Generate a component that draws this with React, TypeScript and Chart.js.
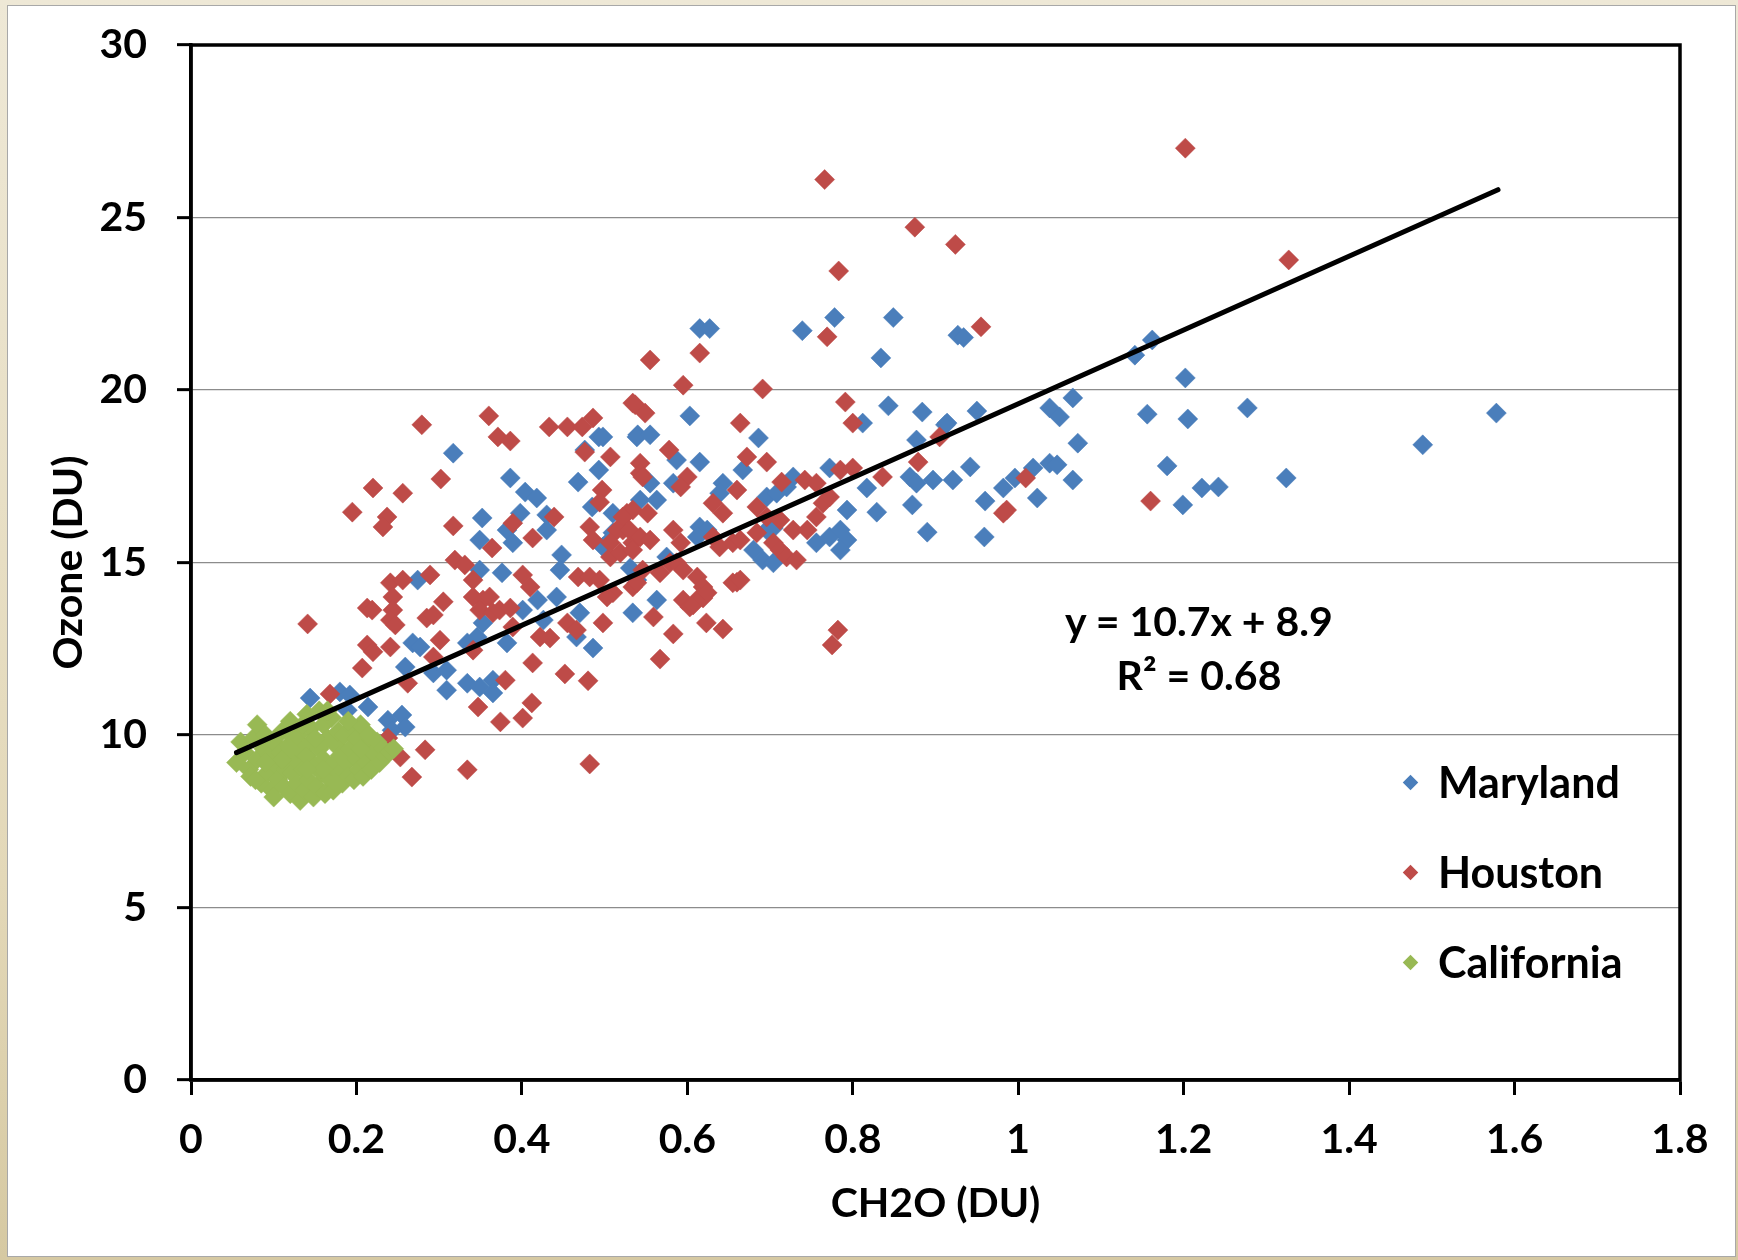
import React, { useEffect, useRef } from "react";
import { Chart, registerables } from "chart.js";

Chart.register(...registerables);

const xTickValues = [0, 0.2, 0.4, 0.6, 0.8, 1, 1.2, 1.4, 1.6, 1.8];
const yTickValues = [0, 5, 10, 15, 20, 25, 30];

const seriesNames = ["Maryland", "Houston", "California"];
const seriesColors = ["#4a7ebb", "#be4b48", "#98b954"];

// [CH2O (DU), Ozone (DU)]
const maryland = [
  [0.317, 18.17], [0.386, 17.45], [0.404, 17.04], [0.418, 16.87], [0.468, 17.33], [0.493, 17.68],
  [0.493, 18.64], [0.476, 18.26], [0.54, 18.7], [0.352, 16.29], [0.398, 16.43], [0.43, 16.38],
  [0.349, 15.65], [0.382, 15.94], [0.389, 15.57], [0.43, 15.94], [0.448, 15.22], [0.446, 14.78],
  [0.485, 16.61], [0.51, 15.86], [0.498, 15.45], [0.349, 14.78], [0.376, 14.7], [0.274, 14.49],
  [0.419, 13.91], [0.442, 14.0], [0.401, 13.62], [0.426, 13.33], [0.47, 13.54], [0.466, 12.84],
  [0.486, 12.52], [0.534, 13.54], [0.353, 13.25], [0.346, 12.84], [0.334, 12.67], [0.268, 12.67],
  [0.277, 12.55], [0.382, 12.67], [0.531, 14.84], [0.539, 14.49],
  [0.144, 11.07], [0.18, 11.25], [0.192, 11.16], [0.189, 10.72], [0.214, 10.81], [0.238, 10.43],
  [0.255, 10.58], [0.259, 10.23], [0.243, 10.14], [0.259, 11.97], [0.293, 11.8], [0.309, 11.88],
  [0.309, 11.3], [0.334, 11.5], [0.349, 11.39], [0.365, 11.59], [0.365, 11.22],
  [0.615, 21.78], [0.627, 21.78], [0.739, 21.72], [0.834, 20.93], [0.927, 21.59], [0.603, 19.25],
  [0.843, 19.54], [0.884, 19.36], [0.812, 19.04], [0.914, 19.04], [0.539, 18.64], [0.555, 18.7],
  [0.498, 18.64], [0.686, 18.61], [0.877, 18.55], [0.587, 17.97], [0.615, 17.91], [0.667, 17.68],
  [0.921, 17.39], [0.897, 17.39], [0.869, 17.48], [0.877, 17.3], [0.817, 17.16], [0.772, 17.74],
  [0.728, 17.48], [0.543, 16.81], [0.563, 16.81], [0.555, 17.3], [0.583, 17.3], [0.643, 17.3],
  [0.639, 17.01], [0.696, 16.9], [0.708, 17.01], [0.72, 17.19], [0.793, 16.52], [0.829, 16.46],
  [0.872, 16.67], [0.89, 15.88], [0.615, 16.03], [0.624, 15.94], [0.612, 15.74], [0.696, 15.94],
  [0.704, 16.0], [0.756, 15.57], [0.772, 15.74], [0.785, 15.94], [0.793, 15.65], [0.785, 15.36],
  [0.68, 15.36], [0.691, 15.07], [0.704, 14.99], [0.563, 13.91], [0.51, 16.43], [0.503, 15.57],
  [0.575, 15.16],
  [0.934, 21.52], [1.141, 21.01], [1.162, 21.45], [1.202, 20.35], [1.066, 19.77], [0.95, 19.39],
  [1.038, 19.48], [1.05, 19.22], [1.156, 19.3], [1.205, 19.16], [1.277, 19.48], [0.912, 18.99],
  [1.072, 18.46], [1.18, 17.8], [0.942, 17.77], [1.038, 17.88], [1.047, 17.83], [1.018, 17.74],
  [0.996, 17.45], [1.066, 17.39], [0.982, 17.16], [0.96, 16.78], [1.023, 16.87], [1.222, 17.16],
  [1.242, 17.19], [1.324, 17.45], [1.199, 16.67], [0.959, 15.74], [1.489, 18.41], [1.578, 19.33],
  [0.778, 22.1], [0.849, 22.1],
];

const houston = [
  [0.279, 18.99], [0.36, 19.25], [0.371, 18.64], [0.386, 18.52], [0.433, 18.93], [0.455, 18.93],
  [0.473, 18.93], [0.486, 19.19], [0.476, 18.2], [0.507, 18.06], [0.534, 19.62], [0.22, 17.16],
  [0.256, 17.01], [0.302, 17.42], [0.195, 16.46], [0.237, 16.32], [0.232, 16.03], [0.317, 16.06],
  [0.389, 16.14], [0.413, 15.71], [0.364, 15.42], [0.439, 16.32], [0.497, 17.1], [0.494, 16.75],
  [0.482, 16.03], [0.486, 15.65], [0.527, 16.43], [0.522, 15.94], [0.534, 15.57], [0.507, 15.16],
  [0.319, 15.07], [0.331, 14.93], [0.289, 14.64], [0.241, 14.41], [0.256, 14.49], [0.341, 14.49],
  [0.401, 14.64], [0.41, 14.29], [0.468, 14.58], [0.482, 14.58], [0.494, 14.49], [0.213, 13.68],
  [0.219, 13.62], [0.244, 14.0], [0.244, 13.62], [0.241, 13.33], [0.247, 13.19], [0.141, 13.22],
  [0.305, 13.86], [0.285, 13.39], [0.293, 13.48], [0.341, 14.0], [0.353, 13.91], [0.361, 14.0],
  [0.349, 13.62], [0.365, 13.54], [0.373, 13.62], [0.386, 13.68], [0.389, 13.13], [0.422, 12.84],
  [0.434, 12.81], [0.455, 13.25], [0.466, 13.04], [0.498, 13.25], [0.51, 14.12], [0.503, 14.0],
  [0.534, 14.29], [0.213, 12.61], [0.22, 12.41], [0.241, 12.55], [0.301, 12.75], [0.341, 12.46],
  [0.207, 11.94], [0.262, 11.5], [0.168, 11.19], [0.238, 9.91], [0.253, 9.36], [0.283, 9.57],
  [0.267, 8.78], [0.334, 8.99], [0.347, 10.81], [0.374, 10.38], [0.401, 10.49], [0.412, 10.93],
  [0.38, 11.59], [0.293, 12.26], [0.413, 12.09],
  [0.555, 20.87], [0.615, 21.07], [0.769, 21.54], [0.595, 20.14], [0.691, 20.03], [0.537, 19.57],
  [0.549, 19.33], [0.664, 19.04], [0.791, 19.65], [0.8, 19.04], [0.578, 18.26], [0.672, 18.06],
  [0.696, 17.91], [0.543, 17.88], [0.543, 17.59], [0.546, 17.48], [0.6, 17.48], [0.592, 17.19],
  [0.66, 17.1], [0.714, 17.33], [0.742, 17.39], [0.756, 17.3], [0.785, 17.68], [0.8, 17.74],
  [0.836, 17.48], [0.879, 17.91], [0.905, 18.64], [0.534, 16.52], [0.552, 16.43], [0.522, 16.32],
  [0.515, 15.94], [0.53, 15.94], [0.543, 15.74], [0.555, 15.65], [0.507, 15.57], [0.519, 15.28],
  [0.534, 15.36], [0.583, 15.94], [0.592, 15.57], [0.631, 16.72], [0.643, 16.43], [0.684, 16.61],
  [0.696, 16.32], [0.712, 16.23], [0.728, 15.94], [0.745, 15.94], [0.764, 16.72], [0.772, 16.9],
  [0.756, 16.32], [0.631, 15.74], [0.639, 15.45], [0.655, 15.57], [0.664, 15.65], [0.684, 15.86],
  [0.704, 15.57], [0.712, 15.36], [0.72, 15.16], [0.732, 15.07], [0.579, 14.99], [0.587, 14.99],
  [0.595, 14.78], [0.612, 14.58], [0.619, 14.29], [0.615, 14.0], [0.546, 14.78], [0.539, 14.41],
  [0.567, 14.7], [0.595, 13.91], [0.603, 13.71], [0.66, 14.43], [0.559, 13.42],
  [0.583, 12.93], [0.623, 13.25], [0.643, 13.07], [0.782, 13.04], [0.775, 12.61], [0.567, 12.2],
  [0.452, 11.77], [0.48, 11.57], [0.482, 9.16], [0.655, 14.41], [0.664, 14.49], [0.607, 13.77],
  [0.619, 13.97], [0.624, 14.12],
  [1.202, 27.01], [0.875, 24.72], [0.924, 24.22], [1.327, 23.77], [0.955, 21.83], [1.009, 17.45],
  [0.986, 16.52], [0.982, 16.43], [1.16, 16.78], [0.766, 26.1], [0.783, 23.45],
];

const california = [
  [0.055, 9.2], [0.06, 9.8], [0.065, 9.5], [0.07, 9.0], [0.072, 8.8], [0.075, 9.9], [0.08, 10.3],
  [0.08, 9.3], [0.085, 8.6], [0.088, 9.6], [0.09, 10.0], [0.092, 8.9], [0.095, 9.4], [0.098, 8.4],
  [0.1, 9.8], [0.1, 8.2], [0.103, 9.1], [0.105, 8.7], [0.108, 9.5], [0.11, 10.1], [0.112, 8.5],
  [0.115, 9.0], [0.118, 9.7], [0.12, 10.4], [0.12, 8.3], [0.122, 8.9], [0.125, 9.3], [0.128, 8.6],
  [0.13, 10.0], [0.13, 9.6], [0.132, 8.1], [0.135, 9.0], [0.137, 8.4], [0.14, 10.6], [0.14, 9.4],
  [0.142, 8.7], [0.145, 10.2], [0.145, 9.8], [0.148, 8.2], [0.15, 9.1], [0.152, 8.5], [0.155, 10.7],
  [0.155, 9.6], [0.158, 8.9], [0.16, 10.3], [0.16, 9.3], [0.162, 8.3], [0.165, 9.9], [0.168, 8.7],
  [0.17, 10.5], [0.17, 9.1], [0.172, 8.4], [0.175, 9.7], [0.178, 10.1], [0.18, 8.9], [0.18, 9.4],
  [0.183, 8.6], [0.185, 10.0], [0.188, 9.2], [0.19, 8.8], [0.192, 9.6], [0.195, 10.2], [0.197, 8.7],
  [0.2, 9.3], [0.2, 9.9], [0.203, 9.0], [0.205, 10.3], [0.208, 8.8], [0.21, 9.6], [0.212, 9.2],
  [0.215, 10.0], [0.218, 9.0], [0.22, 9.5], [0.225, 9.8], [0.228, 9.2], [0.232, 9.6], [0.235, 9.4],
  [0.24, 9.5], [0.245, 9.6], [0.11, 9.3], [0.125, 9.9], [0.135, 10.3], [0.15, 9.9], [0.165, 10.7],
  [0.16, 9.0], [0.14, 9.0], [0.12, 9.6], [0.09, 9.2], [0.078, 8.7], [0.175, 8.6], [0.19, 10.4],
  [0.205, 9.6],
];

// trendline as printed on the chart
const fitSlope = 10.7;
const fitIntercept = 8.9;
const fitXRange = [0.055, 1.58];

const FONT = "Lato, 'Open Sans', sans-serif";

const toPoints = (rows: number[][]) => rows.map(([x, y]) => ({ x, y }));

// black box round the plot area (Excel draws it on all four sides)
const framePlugin = {
  id: "frame",
  beforeDatasetsDraw(chart: any) {
    const { ctx, chartArea: a } = chart;
    ctx.save();
    ctx.strokeStyle = "#000";
    ctx.lineWidth = 3.5;
    ctx.strokeRect(a.left, a.top, a.right - a.left, a.bottom - a.top);
    ctx.restore();
  },
};

const App = () => {
  const canvasRef = useRef<HTMLCanvasElement | null>(null);

  useEffect(() => {
    const ctx = canvasRef.current?.getContext("2d") as CanvasRenderingContext2D;
    const scatter = (rows: number[][], i: number, order: number) => ({
      type: "scatter",
      label: seriesNames[i],
      data: toPoints(rows),
      order,
      pointStyle: "rectRot",
      pointRadius: 10,
      pointBackgroundColor: seriesColors[i],
      pointBorderColor: seriesColors[i],
      pointBorderWidth: 0.5,
    });

    const chart = new Chart(ctx, {
      type: "scatter",
      data: {
        datasets: [
          {
            type: "line",
            label: "fit",
            data: fitXRange.map((x) => ({ x, y: fitSlope * x + fitIntercept })),
            order: -1,
            borderColor: "#000",
            borderWidth: 5,
            borderCapStyle: "round",
            pointRadius: 0,
            showLine: true,
          },
          scatter(california, 2, 0),
          scatter(houston, 1, 1),
          scatter(maryland, 0, 2),
        ] as any,
      },
      plugins: [framePlugin],
      options: {
        responsive: false,
        animation: false,
        events: [],
        layout: { padding: { top: 45, right: 58, left: 0, bottom: 0 } },
        plugins: { legend: { display: false }, tooltip: { enabled: false } },
        scales: {
          x: {
            type: "linear",
            min: 0,
            max: 1.8,
            afterFit: (s: any) => {
              s.height = 180;
            },
            afterBuildTicks: (s: any) => {
              s.ticks = xTickValues.map((value) => ({ value }));
            },
            grid: {
              drawOnChartArea: false,
              drawTicks: true,
              tickLength: 15,
              tickColor: "#000",
              tickWidth: 3,
            },
            border: { display: true, color: "#000", width: 3.5 },
            ticks: {
              padding: 20,
              color: "#000",
              font: { family: FONT, size: 41, weight: "bold" },
              callback: (v: any) => String(Math.round(Number(v) * 10) / 10),
            },
            title: {
              display: true,
              text: "CH2O (DU)",
              color: "#000",
              font: { family: FONT, size: 41, weight: "bold" },
              padding: { top: 0, bottom: 32 },
            },
          },
          y: {
            type: "linear",
            min: 0,
            max: 30,
            afterFit: (s: any) => {
              s.width = 191;
            },
            afterBuildTicks: (s: any) => {
              s.ticks = yTickValues.map((value) => ({ value }));
            },
            grid: {
              color: "#8c8c8c",
              lineWidth: 1.3,
              drawTicks: true,
              tickLength: 14,
              tickColor: "#000",
              tickWidth: 3,
            },
            border: { display: true, color: "#000", width: 3.5 },
            ticks: {
              padding: 30,
              color: "#000",
              // small line height keeps the top label from pushing the plot down
              font: { family: FONT, size: 41, weight: "bold", lineHeight: 0.5 },
              callback: (v: any) => String(v),
            },
            title: {
              display: true,
              text: "Ozone (DU)",
              color: "#000",
              font: { family: FONT, size: 41, weight: "bold" },
              padding: { top: 44, bottom: 0 },
            },
          },
        },
      } as any,
    });

    return () => {
      chart.destroy();
    };
  }, []);

  const textStyle: React.CSSProperties = {
    fontFamily: FONT,
    fontWeight: 700,
    fontSize: 41,
    color: "#000",
    whiteSpace: "nowrap",
  };
  const legendTops = [757, 847, 937];

  return (
    <div
      style={{
        position: "absolute",
        left: 0,
        top: 0,
        width: 1738,
        height: 1260,
        overflow: "hidden",
        background: "linear-gradient(to bottom, #eee8d6, #e3d8b8 70%, #d6c9a2)",
      }}
    >
      <div
        style={{
          position: "absolute",
          left: 7,
          top: 5,
          width: 1729,
          height: 1252,
          background: "#fff",
          border: "1px solid #a8a8a8",
          boxSizing: "border-box",
        }}
      />
      <canvas
        ref={canvasRef}
        width={1738}
        height={1260}
        style={{ position: "absolute", left: 0, top: 0, width: 1738, height: 1260 }}
      />
      <div
        style={{
          ...textStyle,
          position: "absolute",
          left: 999,
          top: 594,
          width: 400,
          textAlign: "center",
          lineHeight: "54px",
        }}
      >
        <div>y = 10.7x + 8.9</div>
        <div>R² = 0.68</div>
      </div>
      {seriesNames.map((name, i) => (
        <div
          key={name}
          style={{
            ...textStyle,
            fontSize: 43,
            position: "absolute",
            left: 1405,
            top: legendTops[i],
            height: 50,
            lineHeight: "50px",
            display: "flex",
            alignItems: "center",
          }}
        >
          <span
            style={{
              display: "inline-block",
              width: 11,
              height: 11,
              background: seriesColors[i],
              transform: "rotate(45deg)",
              marginRight: 22,
            }}
          />
          <span>{name}</span>
        </div>
      ))}
    </div>
  );
};

export default App;
